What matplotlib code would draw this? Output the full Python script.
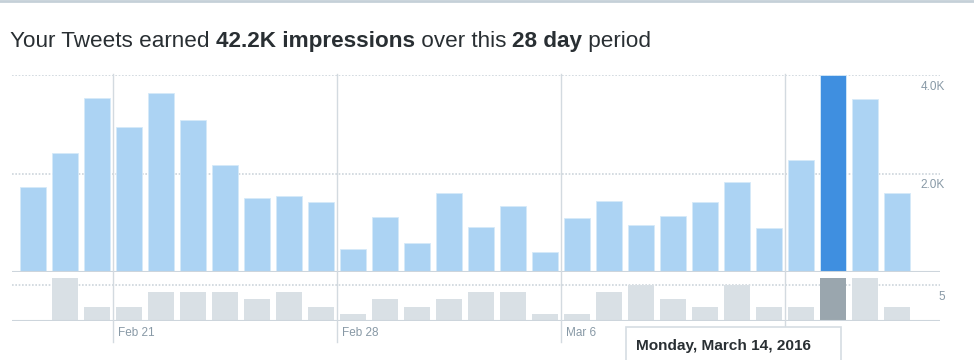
import numpy as np
import pandas as pd
import matplotlib
matplotlib.use("Agg")
import matplotlib.pyplot as plt
import matplotlib.transforms as mtransforms
from matplotlib.patches import Rectangle
from matplotlib.lines import Line2D

# daily data, Feb 18 - Mar 16 2016
days = pd.date_range("2016-02-18", periods=28, freq="D")
impressions = [1720, 2420, 3540, 2935, 3630, 3090, 2175, 1510, 1540, 1420,
               460, 1120, 580, 1610, 920, 1340, 400, 1100, 1450, 960,
               1130, 1430, 1830, 890, 2280, 4000, 3520, 1610]
engagements = [0, 6, 2, 2, 4, 4, 4, 3, 4, 2,
               1, 3, 2, 3, 4, 4, 1, 1, 4, 5,
               3, 2, 5, 2, 2, 6, 6, 2]
highlight = 25  # Monday, March 14
week_labels = ["Feb 21", "Feb 28", "Mar 6", ""]
title_parts = [("Your Tweets earned ", False), ("42.2K impressions", True),
               (" over this ", False), ("28 day", True), (" period", False)]

W, H = 974, 360
fig = plt.figure(figsize=(W / 100, H / 100), dpi=100)
plt.rcParams['font.family'] = ['Liberation Sans', 'DejaVu Sans']

def fy(py):
    return 1 - py / H

def fx(px):
    return px / W

x = np.arange(len(days))
xlim = ((12 - 33) / 32, (940 - 33) / 32)

light_blue = "#acd3f3"
dark_blue = "#3f8fe0"
light_grey = "#d9e0e5"
dark_grey = "#9aa6ae"
grid_col = "#cdd5dc"
text_col = "#8899a6"

# main impressions panel
ax1 = fig.add_axes([fx(12), fy(272), fx(940 - 12), (272 - 75) / H])
cols = [dark_blue if i == highlight else light_blue for i in x]
ax1.bar(x, impressions, width=0.81, color=cols, edgecolor="#d6eaf9", linewidth=0.6, zorder=2)
ax1.set_xlim(xlim)
ax1.set_ylim(0, 4000)
for yv in [2000, 4000]:
    ax1.axhline(yv, color=grid_col, lw=1.2, ls=(0, (1, 1)), zorder=1)
ax1.axhline(0, color=grid_col, lw=1.5, zorder=3)
ax1.axis("off")

# engagements panel
ax2 = fig.add_axes([fx(12), fy(321), fx(940 - 12), (321 - 272) / H])
cols2 = [dark_grey if i == highlight else light_grey for i in x]
ax2.bar(x, engagements, width=0.81, color=cols2, zorder=2)
ax2.set_xlim(xlim)
ax2.set_ylim(0, 6.8)
ax2.axhline(5, color=grid_col, lw=1.2, ls=(0, (1, 1)), zorder=1)
ax2.axhline(0, color=grid_col, lw=1.5, zorder=3)
ax2.axis("off")

# right-side value labels, placed just below their gridlines
for yv, lab in [(4000, "4.0K"), (2000, "2.0K")]:
    ax1.annotate(lab, xy=(1, yv), xycoords=("axes fraction", "data"),
                 xytext=(5, -12), textcoords="offset pixels",
                 ha="right", va="center", fontsize=8.5, color=text_col)
ax2.annotate("5", xy=(1, 5), xycoords=("axes fraction", "data"),
             xytext=(5, -12), textcoords="offset pixels",
             ha="right", va="center", fontsize=8.5, color=text_col)

# weekly separators and date labels
trans = mtransforms.blended_transform_factory(ax2.transData, fig.transFigure)
week_starts = [i for i, d in enumerate(days) if d.dayofweek == 6]
for i, lab in zip(week_starts, week_labels):
    fig.add_artist(Line2D([i - 0.5, i - 0.5], [fy(74), fy(342)], transform=trans,
                          color="#d3dae0", lw=1.0, zorder=1))
    if lab:
        ax2.annotate(lab, xy=(i - 0.5, 0), xytext=(5, -12), textcoords="offset pixels",
                     ha="left", va="center", fontsize=8.5, color=text_col,
                     annotation_clip=False)

# tooltip box for the highlighted day
fig.add_artist(Rectangle((fx(626), fy(375)), fx(841 - 626), (375 - 327) / H,
                         transform=fig.transFigure, facecolor="white",
                         edgecolor="#d5dde3", lw=1.2, zorder=5))
fig.text(fx(636), fy(346), days[highlight].strftime("%A, %B %-d, %Y"),
         fontsize=11.1, fontweight="bold", color="#292f33", va="center", zorder=6)

# top border
fig.add_artist(Line2D([0, 1], [fy(1), fy(1)], transform=fig.transFigure,
                      color="#c5d0d8", lw=2))

# title with bold segments
renderer = fig.canvas.get_renderer()
xpos = fx(10)
for txt, bold in title_parts:
    t = fig.text(xpos, fy(47), txt, fontsize=16.2, color="#292f33",
                 fontweight="bold" if bold else "normal", va="baseline")
    bb = t.get_window_extent(renderer=renderer)
    xpos += bb.width / W

fig.savefig("out.png", dpi=100)
